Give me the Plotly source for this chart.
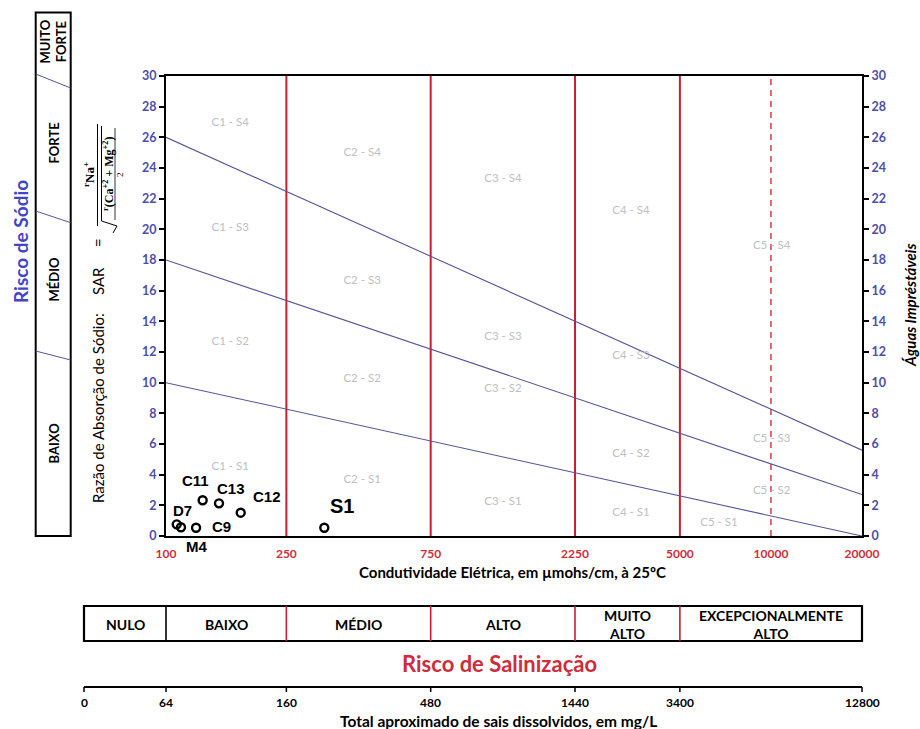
import numpy as np
import plotly.graph_objects as go

# ---- Data -----------------------------------------------------------------
# Water samples: electrical conductivity (µmhos/cm at 25 °C) and SAR
samples = ["D7", "M4", "C9", "C11", "C13", "C12", "S1"]
conductivity = [108.5, 112.1, 125.7, 132.2, 149.7, 176.6, 333.7]
sar = [0.76, 0.57, 0.54, 2.33, 2.13, 1.52, 0.54]

# Salinity class limits (conductivity)
ce_limits = [250, 750, 2250, 5000]
ce_limit_dashed = 10000

# Sodium hazard boundaries: SAR at conductivity 100 and 20000
sar_line_ce = [100, 20000]
sar_line_s1_s2 = [10, 0]
sar_line_s2_s3 = [18, 2.7]
sar_line_s3_s4 = [26, 5.6]

# Classification region labels
region_labels = ["C1 - S4", "C2 - S4", "C3 - S4", "C4 - S4", "C5 - S4",
                 "C1 - S3", "C2 - S3", "C3 - S3", "C4 - S3", "C5 - S3",
                 "C1 - S2", "C2 - S2", "C3 - S2", "C4 - S2", "C5 - S2",
                 "C1 - S1", "C2 - S1", "C3 - S1", "C4 - S1", "C5 - S1"]
region_ce = [163, 445, 1300, 3445, 10050,
             163, 445, 1300, 3445, 10050,
             163, 445, 1300, 3445, 10050,
             163, 445, 1300, 3445, 6730]
region_sar = [26.9, 25.0, 23.3, 21.2, 18.9,
              20.1, 16.6, 13.0, 11.7, 6.3,
              12.65, 10.2, 9.6, 5.35, 2.9,
              4.5, 3.65, 2.2, 1.5, 0.87]

# Axis ticks
ce_ticks = [100, 250, 750, 2250, 5000, 10000, 20000]
sar_ticks = list(range(0, 31, 2))
tds_ticks = [0, 64, 160, 480, 1440, 3400, 12800]
tds_tick_ce = [None, 100, 250, 750, 2250, 5000, 20000]

salinity_classes = ["NULO", "BAIXO", "MÉDIO", "ALTO", "MUITO<br>ALTO",
                    "EXCEPCIONALMENTE<br>ALTO"]
sodium_classes = ["BAIXO", "MÉDIO", "FORTE", "MUITO<br>FORTE"]

# ---- Styles ---------------------------------------------------------------
W, H = 920, 729
L, R, T, B = 166, 862, 76, 536
RED = "rgb(200,32,48)"
RED_TXT = "rgb(205,45,60)"
BLUE_TICK = "rgb(78,78,170)"
BLUE_LINE = "rgb(85,85,150)"
GREY = "rgb(192,192,192)"
FONT = "Lato"
SERIF = "Liberation Serif"
ARIAL = "Liberation Sans"

XMAX = np.log10(20000)


def px(x):
    """pixel x -> paper x"""
    return (x - L) / (R - L)


def py(y):
    """pixel y -> paper y"""
    return (B - y) / (B - T)


def ce_paper(c):
    return (np.log10(c) - 2) / (XMAX - 2)


LEFT_EDGE = px(84)

fig = go.Figure()

# Salinity class boundaries
for c in ce_limits:
    fig.add_trace(go.Scatter(x=[c, c], y=[0, 30], mode="lines",
                             line=dict(color=RED, width=2), hoverinfo="skip"))
fig.add_trace(go.Scatter(x=[ce_limit_dashed, ce_limit_dashed], y=[0, 30], mode="lines",
                         line=dict(color=RED, width=1.3, dash="6px,5px"), hoverinfo="skip"))

# Sodium hazard boundaries
for ys in (sar_line_s1_s2, sar_line_s2_s3, sar_line_s3_s4):
    fig.add_trace(go.Scatter(x=sar_line_ce, y=ys, mode="lines",
                             line=dict(color=BLUE_LINE, width=1.1), hoverinfo="skip"))

# Region labels
fig.add_trace(go.Scatter(x=region_ce, y=region_sar, mode="text", text=region_labels,
                         textfont=dict(family=FONT, size=11.5, color=GREY),
                         hoverinfo="skip"))

# Samples
fig.add_trace(go.Scatter(x=conductivity, y=sar, mode="markers",
                         marker=dict(symbol="circle-open", size=8, color="black",
                                     line=dict(width=2.4, color="black")),
                         text=samples, hoverinfo="text"))

# Right axis carrier
fig.add_trace(go.Scatter(x=[100], y=[0], yaxis="y2", mode="markers",
                         marker=dict(opacity=0), hoverinfo="skip"))

ann = []
shapes = []


def note(xp, yp, text, size, family=FONT, color="black", angle=0):
    """centred text at pixel position"""
    ann.append(dict(x=px(xp), y=py(yp), xref="paper", yref="paper", text=text,
                    textangle=angle, showarrow=False, xanchor="center", yanchor="middle",
                    font=dict(family=family, size=size, color=color)))


# Sample labels
label_offsets = {"D7": (6, 14, 15), "M4": (15, -19, 15), "C9": (25, 1, 15),
                 "C11": (-7, 20, 15), "C13": (12, 15, 15), "C12": (26, 16, 15),
                 "S1": (18, 22, 20)}
for name, c, s in zip(samples, conductivity, sar):
    dx, dy, fs = label_offsets[name]
    ann.append(dict(x=np.log10(c), y=s, xref="x", yref="y", text=f"<b>{name}</b>",
                    showarrow=False, xshift=dx, yshift=dy,
                    xanchor="center", yanchor="middle",
                    font=dict(family=ARIAL, size=fs, color="black")))

# Left: sodium hazard box
box_x0, box_x1 = px(35.7), px(70.7)
shapes.append(dict(type="rect", xref="paper", yref="paper", x0=box_x0, x1=box_x1,
                   y0=py(536), y1=py(12.5), line=dict(color="black", width=2)))
for y_left, y_right in ((74, 88), (211, 222.7), (351, 360)):
    shapes.append(dict(type="line", xref="paper", yref="paper", x0=box_x0, x1=box_x1,
                       y0=py(y_left), y1=py(y_right), line=dict(color=BLUE_LINE, width=1)))
sodium_label_y = [443, 279, 143, 42]
for txt, yc in zip(sodium_classes, sodium_label_y):
    note(53.5, yc, f"<b>{txt}</b>", 13, angle=-90)
note(20, 242, "<b>Risco de Sódio</b>", 19, color="rgb(68,68,200)", angle=-90)

# Left axis title with SAR formula
note(98, 408, "Razão de Absorção de Sódio:", 15, angle=-90)
note(98, 281, "SAR", 15, angle=-90)
note(98, 243, "=", 15, angle=-90)
note(89, 175, "<b><sup>r</sup>Na<sup>+</sup></b>", 13, family=SERIF, angle=-90)
note(108, 174, "<b><sup>r</sup>(Ca<sup>+2</sup> + Mg<sup>+2</sup>)</b>", 12,
     family=SERIF, angle=-90)
note(120, 175, "2", 9, family=SERIF, angle=-90)


def pline(x0, y0, x1, y1, color="black", width=1):
    shapes.append(dict(type="line", xref="paper", yref="paper", x0=px(x0), y0=py(y0),
                       x1=px(x1), y1=py(y1), line=dict(color=color, width=width)))


pline(97.5, 124, 97.5, 226)      # main fraction bar
pline(101.5, 126, 101.5, 221)    # radical top bar
pline(101.5, 221, 117, 226)      # radical long stroke
pline(117, 226, 113, 233)        # radical short stroke
pline(115, 128, 115, 220, width=0.8)  # inner fraction bar

# Right axis title
note(910, 305, "<b><i>Águas Impréstáveis</i></b>", 15, angle=-90)

# x-axis title
note(512, 572, "<b>Condutividade Elétrica, em µmohs/cm, à 25ºC</b>", 15)

# Salinity hazard box
bx_top, bx_bot = py(606), py(641)
shapes.append(dict(type="rect", xref="paper", yref="paper", x0=LEFT_EDGE, x1=1,
                   y0=bx_bot, y1=bx_top, line=dict(color="black", width=2.2)))
class_edges = [LEFT_EDGE] + [ce_paper(c) for c in [100] + ce_limits] + [1.0]
for i, xe in enumerate(class_edges[1:-1]):
    shapes.append(dict(type="line", xref="paper", yref="paper", x0=xe, x1=xe,
                       y0=bx_bot, y1=bx_top,
                       line=dict(color="black" if i == 0 else RED, width=1.6)))
for i, txt in enumerate(salinity_classes):
    xc = (class_edges[i] + class_edges[i + 1]) / 2
    ann.append(dict(x=xc, y=py(624), xref="paper", yref="paper", text=f"<b>{txt}</b>",
                    showarrow=False, xanchor="center", yanchor="middle",
                    font=dict(family=FONT, size=14, color="black")))
note(499, 663, "<b>Risco de Salinização</b>", 22, color=RED_TXT)

# Total dissolved solids scale
tds_y = py(687)
shapes.append(dict(type="line", xref="paper", yref="paper", x0=LEFT_EDGE, x1=1,
                   y0=tds_y, y1=tds_y, line=dict(color="black", width=2)))
for val, c in zip(tds_ticks, tds_tick_ce):
    xt = LEFT_EDGE if c is None else ce_paper(c)
    shapes.append(dict(type="line", xref="paper", yref="paper", x0=xt, x1=xt,
                       y0=tds_y, y1=py(692), line=dict(color="black", width=1.5)))
    ann.append(dict(x=xt, y=py(702), xref="paper", yref="paper", text=f"<b>{val}</b>",
                    showarrow=False, xanchor="center", yanchor="middle",
                    font=dict(family=FONT, size=12, color="black")))
note(498, 721, "<b>Total aproximado de sais dissolvidos, em mg/L</b>", 15.5)

sar_axis = dict(range=[0, 30], tickvals=sar_ticks, ticktext=[str(v) for v in sar_ticks],
                tickfont=dict(family=FONT, size=12.5, color=BLUE_TICK, weight="bold"),
                ticks="outside", ticklen=5, tickwidth=1.5, tickcolor="black",
                showline=True, linecolor="black", linewidth=2,
                showgrid=False, zeroline=False, fixedrange=True)

fig.update_layout(
    width=W, height=H,
    margin=dict(l=L, r=W - R, t=T, b=H - B),
    paper_bgcolor="white", plot_bgcolor="white",
    showlegend=False,
    xaxis=dict(type="log", range=[2, XMAX], tickvals=ce_ticks,
               ticktext=[str(v) for v in ce_ticks],
               tickfont=dict(family=FONT, size=12, color=RED_TXT, weight="bold"),
               ticks="outside", ticklen=6, tickcolor="rgba(0,0,0,0)",
               showline=True, linecolor="black", linewidth=2, mirror=True,
               showgrid=False, zeroline=False, fixedrange=True),
    yaxis=sar_axis,
    yaxis2=dict(sar_axis, overlaying="y", side="right"),
    annotations=ann,
    shapes=shapes,
)

fig.write_html("out.html")
